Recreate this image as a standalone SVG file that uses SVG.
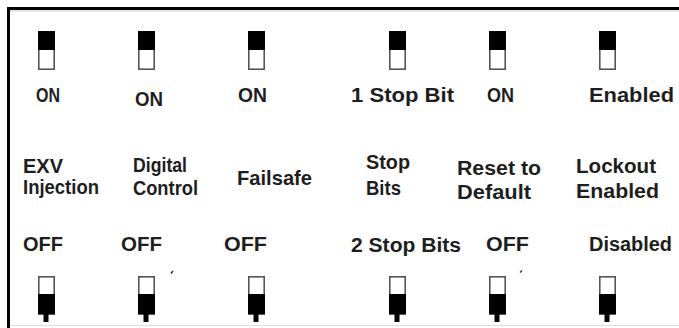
<svg xmlns="http://www.w3.org/2000/svg" xmlns:xlink="http://www.w3.org/1999/xlink" width="679" height="328" viewBox="0 0 679 328">
<style>
text{font-family:"Liberation Sans",Arial,sans-serif;font-weight:bold;fill:#1e1e1e}
.t{font-size:20px}
.m{font-size:21px}
.b{font-size:20px}
.sw{fill:#fff;stroke:#555;stroke-width:1.6}
.blk{fill:#000}
</style>
<defs>
<g id="swOn">
<rect class="sw" x="0.8" y="0.8" width="15.4" height="37.4"/>
<rect class="blk" x="0" y="0" width="17" height="19"/>
</g>
<g id="swOff">
<rect class="sw" x="0.8" y="0.8" width="15.4" height="37.4"/>
<rect class="blk" x="0" y="18" width="17" height="20"/>
<rect class="blk" x="5.5" y="37" width="5" height="9"/>
</g>
</defs>
<rect width="679" height="328" fill="#fff"/>
<g id="frame">
<path d="M8.5 328 V8.5 H679" fill="none" stroke="#000" stroke-width="3"/>
<line x1="10" y1="11" x2="679" y2="11" stroke="#ccc" stroke-width="1"/>
<line x1="10" y1="325.5" x2="679" y2="325.5" stroke="#ddd" stroke-width="1"/>
</g>
<g id="sw1">
<use xlink:href="#swOn" x="38" y="31"/>
<text class="t" x="36" y="102" textLength="24" lengthAdjust="spacingAndGlyphs">ON</text>
<text class="m" x="23" y="173" textLength="40" lengthAdjust="spacingAndGlyphs">EXV</text>
<text class="m" x="23" y="194" textLength="76" lengthAdjust="spacingAndGlyphs">Injection</text>
<text class="b" x="23" y="251" textLength="40" lengthAdjust="spacingAndGlyphs">OFF</text>
<use xlink:href="#swOff" x="38" y="276"/>
</g>
<g id="sw2">
<use xlink:href="#swOn" x="138" y="31"/>
<text class="t" x="135" y="106" textLength="28" lengthAdjust="spacingAndGlyphs">ON</text>
<text class="m" x="133" y="172" textLength="54" lengthAdjust="spacingAndGlyphs">Digital</text>
<text class="m" x="133" y="195" textLength="65" lengthAdjust="spacingAndGlyphs">Control</text>
<text class="b" x="121" y="251" textLength="41" lengthAdjust="spacingAndGlyphs">OFF</text>
<use xlink:href="#swOff" x="138" y="276"/>
<path d="M171 273.5 L173 271" stroke="#333" stroke-width="1.5"/>
</g>
<g id="sw3">
<use xlink:href="#swOn" x="248" y="31"/>
<text class="t" x="238" y="102" textLength="29" lengthAdjust="spacingAndGlyphs">ON</text>
<text class="m" x="237" y="185" textLength="75" lengthAdjust="spacingAndGlyphs">Failsafe</text>
<text class="b" x="224" y="251" textLength="43" lengthAdjust="spacingAndGlyphs">OFF</text>
<use xlink:href="#swOff" x="248" y="276"/>
</g>
<g id="sw4">
<use xlink:href="#swOn" x="389" y="31"/>
<text class="t" x="351" y="102" textLength="103" lengthAdjust="spacingAndGlyphs">1 Stop Bit</text>
<text class="m" x="366" y="169" textLength="44" lengthAdjust="spacingAndGlyphs">Stop</text>
<text class="m" x="366" y="195" textLength="35" lengthAdjust="spacingAndGlyphs">Bits</text>
<text class="b" x="351" y="252" textLength="110" lengthAdjust="spacingAndGlyphs">2 Stop Bits</text>
<use xlink:href="#swOff" x="389" y="276"/>
</g>
<g id="sw5">
<use xlink:href="#swOn" x="489" y="31"/>
<text class="t" x="487" y="102" textLength="27" lengthAdjust="spacingAndGlyphs">ON</text>
<text class="m" x="457" y="175" textLength="84" lengthAdjust="spacingAndGlyphs">Reset to</text>
<text class="m" x="457" y="199" textLength="74" lengthAdjust="spacingAndGlyphs">Default</text>
<text class="b" x="486" y="251" textLength="43" lengthAdjust="spacingAndGlyphs">OFF</text>
<use xlink:href="#swOff" x="489" y="276"/>
<path d="M520 272.5 L522 270.5" stroke="#333" stroke-width="1.5"/>
</g>
<g id="sw6">
<use xlink:href="#swOn" x="599" y="31"/>
<text class="t" x="589" y="102" textLength="85" lengthAdjust="spacingAndGlyphs">Enabled</text>
<text class="m" x="576" y="173" textLength="80" lengthAdjust="spacingAndGlyphs">Lockout</text>
<text class="m" x="576" y="198" textLength="83" lengthAdjust="spacingAndGlyphs">Enabled</text>
<text class="b" x="589" y="251" textLength="83" lengthAdjust="spacingAndGlyphs">Disabled</text>
<use xlink:href="#swOff" x="599" y="276"/>
</g>
<g id="connectors"></g>
</svg>
